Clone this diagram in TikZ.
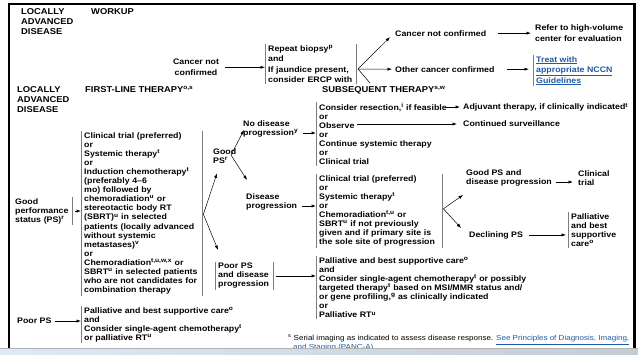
\documentclass[tikz,border=0pt]{standalone}
\usepackage{fontspec}
\newfontfamily\nccn{Liberation Sans}[FakeStretch=1.1]
\usetikzlibrary{positioning, calc, arrows.meta}
\definecolor{linkblue}{RGB}{30,90,165}
\definecolor{bargray}{RGB}{125,125,125}
\definecolor{bandleft}{RGB}{222,234,246}
\definecolor{bandright}{RGB}{196,204,212}
\newcommand{\lnk}[1]{\textcolor{linkblue}{\underline{#1}}}
\newcommand{\sps}[1]{\textsuperscript{#1}}

\begin{document}
\begin{tikzpicture}[
		x=1pt, y=-1pt,
		txt/.style={font=\nccn\bfseries\fontsize{8}{9.1}\selectfont, align=left, inner sep=0pt, anchor=north west},
		wtxt/.style={txt, font=\nccn\bfseries\fontsize{8}{10.5}\selectfont},
		head/.style={txt, font=\nccn\bfseries\fontsize{8.5}{10.2}\selectfont},
		blk/.style={txt, inner xsep=3pt, inner ysep=1pt},
		wblk/.style={wtxt, inner xsep=3pt, inner ysep=1pt},
		note/.style={txt, font=\nccn\fontsize{7.3}{9}\selectfont},
		bar/.style={draw=bargray, line width=0.9pt},
		arr/.style={-{Latex[length=4.5pt, width=3.2pt]}, line width=0.6pt},
		fan/.style={arr, line width=0.5pt}
	]
	\useasboundingbox (0,0) rectangle (638,354);

	% workup
	\node[head] (locA) at (21,8) {LOCALLY\\ADVANCED\\DISEASE};
	\node[head] (workup) at (91,8) {WORKUP};
	\node[wtxt, align=center, anchor=north] (notconf) at (196,59) {Cancer not\\confirmed};
	\node[wblk, text width=85pt] (biopsy) at (265,44) {Repeat biopsy\sps{p}\\and\\If jaundice present,\\consider ERCP with};
	\node[wtxt] (notconf2) at (395,30) {Cancer not confirmed};
	\node[wtxt] (other) at (395,66) {Other cancer confirmed};
	\node[wtxt] (refer) at (535,25) {Refer to high-volume\\center for evaluation};
	\node[wblk] (treat) at (533,55) {\lnk{Treat with}\\\lnk{appropriate NCCN}\\\lnk{Guidelines}};
	\coordinate (fanA) at (358,69);
	\coordinate (fanAcut) at (370,83);

	% first-line and subsequent therapy
	\node[head] (locB) at (17,86) {LOCALLY\\ADVANCED\\DISEASE};
	\node[head] (first) at (85,86) {FIRST-LINE THERAPY\sps{o,s}};
	\node[head] (subs) at (322,86) {SUBSEQUENT THERAPY\sps{s,w}};

	\node[txt, inner xsep=3pt, inner ysep=1pt, text width=54pt] (goodperf) at (12,197) {Good\\performance\\status (PS)\sps{r}};
	\node[blk, text width=115pt] (firstline) at (81,131) {Clinical trial (preferred)\\or\\Systemic therapy\sps{t}\\or\\Induction chemotherapy\sps{t}\\(preferably 4–6\\mo) followed by\\chemoradiation\sps{u} or\\stereotactic body RT\\(SBRT)\sps{u} in selected\\patients (locally advanced\\without systemic\\metastases)\sps{v}\\or\\Chemoradiation\sps{t,u,w,x} or\\SBRT\sps{u} in selected patients\\who are not candidates for\\combination therapy};
	\node[txt] (poorps) at (17,318) {Poor PS};
	\node[blk] (palcare) at (81,306) {Palliative and best supportive care\sps{o}\\and\\Consider single-agent chemotherapy\sps{t}\\or palliative RT\sps{u}};

	\node[txt] (goodps) at (213,148) {Good\\PS\sps{r}};
	\node[txt] (nodis) at (243,120) {No disease\\progression\sps{y}};
	\node[txt] (disprog) at (246,193) {Disease\\progression};
	\node[blk, text width=52pt] (poordis) at (215,262) {Poor PS\\and disease\\progression};

	\node[blk] (sub1) at (316,102) {Consider resection,\sps{i} if feasible\\or\\Observe\\or\\Continue systemic therapy\\or\\Clinical trial};
	\node[blk, text width=120pt] (sub2) at (316,174) {Clinical trial (preferred)\\or\\Systemic therapy\sps{t}\\or\\Chemoradiation\sps{t,u} or\\SBRT\sps{u} if not previously\\given and if primary site is\\the sole site of progression};
	\node[blk] (sub3) at (316,256) {Palliative and best supportive care\sps{o}\\and\\Consider single-agent chemotherapy\sps{t} or possibly\\targeted therapy\sps{t} based on MSI/MMR status and/\\or gene profiling,\sps{g} as clinically indicated\\or\\Palliative RT\sps{u}};

	\node[txt] (adjuv) at (463,103) {Adjuvant therapy, if clinically indicated\sps{t}};
	\node[txt] (surv) at (463,120) {Continued surveillance};
	\node[txt] (goodprog) at (466,169) {Good PS and\\disease progression};
	\node[txt] (trial) at (578,170) {Clinical\\trial};
	\node[txt] (declining) at (469,231) {Declining PS};
	\node[blk] (palbsc) at (568,212) {Palliative\\and best\\supportive\\care\sps{o}};

	\node[note] (fnote) at (288,335) {\sps{s} Serial imaging as indicated to assess disease response. \lnk{See Principles of Diagnosis, Imaging,}\\\hspace*{5pt}\lnk{and Staging (PANC-A)}};

	\coordinate (feas) at (446,107);
	\coordinate (obs) at (357,124);
	\coordinate (fanB) at ($(firstline.east)+(1,1)$);
	\coordinate (fanC) at (231,155);
	\coordinate (fanD) at ($(sub2.east)+(1,-2)$);

	% bars
	\foreach \b in {biopsy, treat, firstline, palcare, poordis, sub1, sub2, sub3, palbsc}
		\draw[bar] (\b.north west) -- (\b.south west);
	\foreach \b in {biopsy, goodperf, firstline, poordis, sub2}
		\draw[bar] (\b.north east) -- (\b.south east);

	% arrows
	\draw[arr, shorten <=6pt] (notconf.east) -- (notconf.east -| biopsy.west);
	\foreach \i/\j in {notconf2/refer, other/treat}
		\draw[arr, shorten <=12pt, shorten >=4pt] (\i.east) -- (\i.east -| \j.west);
	\foreach \i/\j in {goodperf/firstline, poorps/palcare, poordis/sub3}
		\draw[arr, shorten <=3pt] (\i.east) -- (\i.east -| \j.west);
	\foreach \i/\j in {nodis/sub1, disprog/sub2}
		\draw[arr, shorten <=5pt] ([yshift=4pt]\i.south east) -- ([yshift=4pt]\i.south east -| \j.west);
	\draw[arr, shorten <=4pt, shorten >=5pt] ([yshift=4pt]goodprog.south east) -- ([yshift=4pt]goodprog.south east -| trial.west);
	\draw[arr, shorten <=6pt, shorten >=2pt] (declining.east) -- (declining.east -| palbsc.west);
	\draw[arr, shorten >=3pt] (feas) -- (feas -| adjuv.west);
	\draw[arr, shorten >=6pt] (obs) -- (obs -| surv.west);

	% fans
	\draw[fan] (fanA) -- ($(notconf2.west)+(-5,4)$);
	\draw[fan] (fanA) -- ($(other.west)+(-3,0)$);
	\draw[line width=0.5pt] (fanA) -- (fanAcut);
	\draw[fan] (fanB) -- ($(goodps.south west)+(4,10)$);
	\draw[fan] (fanB) -- ($(poordis.north west)+(3,-12)$);
	\draw[fan] (fanC) -- ($(nodis.south west)+(1,-7)$);
	\draw[fan] (fanC) -- ($(disprog.north west)+(1,-13)$);
	\draw[fan] (fanD) -- ($(goodprog.south west)+(-3,9)$);
	\draw[fan] (fanD) -- ($(declining.north west)+(-8,-3)$);

	% frame and lower band
	\draw[line width=1.6pt] (9,348) -- (9,4) -- (633,4);
	\draw[line width=3pt] (634,3) -- (634,348);
	\shade[left color=bandleft, right color=bandright] (0,348) rectangle (638,354);
	\draw[gray!60, line width=0.6pt] (0,348) -- (638,348);
\end{tikzpicture}
\end{document}
